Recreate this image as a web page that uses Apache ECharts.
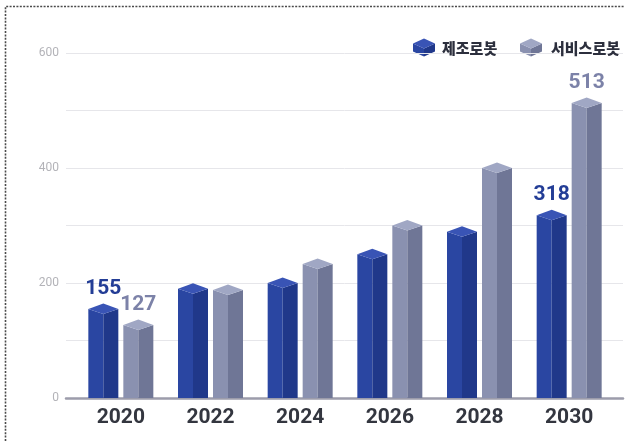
<!DOCTYPE html>
<html>
<head>
<meta charset="utf-8">
<title>로봇 시장 전망</title>
<script src="https://cdn.jsdelivr.net/npm/echarts@6/dist/echarts.min.js"></script>
<style>
  html, body { margin: 0; padding: 0; background: #ffffff; }
  #chart { width: 628px; height: 441px; }
</style>
</head>
<body>
<div id="chart"></div>
<script>
// Years on the category axis
const years = ['2020', '2022', '2024', '2026', '2028', '2030'];
// 제조로봇 (manufacturing robots)
const manufacturing = [155, 190, 200, 250, 289, 318];
// 서비스로봇 (service robots)
const service = [127, 188, 233, 300, 400, 513];
// Value axis range and step
const yMax = 600;
const yStep = 100;
const yLabelStep = 200;
// Years whose bars carry a value label
const labeledYears = ['2020', '2030'];

const seriesNames = ['제조로봇', '서비스로봇'];
const palette = [
  { left: '#2a46a2', right: '#20388a', top: '#3954b5', label: '#233d96' },
  { left: '#8a91b0', right: '#6f7696', top: '#a0a7c4', label: '#7c82a8' }
];
const BAR_HALF = 15;
const PAIR_OFFSET = 17.5;

function prismRenderer(seriesIdx) {
  return function (params, api) {
    const idx = api.value(0);
    const val = api.value(1);
    const top = api.coord([idx, val]);
    const base = api.coord([idx, 0]);
    const xc = top[0] + (seriesIdx === 0 ? -PAIR_OFFSET : PAIR_OFFSET);
    const x0 = xc - BAR_HALF, x1 = xc + BAR_HALF;
    const yT = top[1], yB = base[1];
    const c = palette[seriesIdx];
    const children = [
      { type: 'polygon', shape: { points: [[x0, yT], [xc, yT + 5], [xc, yB], [x0, yB]] },
        style: { fill: c.left } },
      { type: 'polygon', shape: { points: [[xc, yT + 5], [x1, yT], [x1, yB], [xc, yB]] },
        style: { fill: c.right } },
      { type: 'polygon', shape: { points: [[x0, yT], [xc, yT - 5.5], [x1, yT], [xc, yT + 5]] },
        style: { fill: c.top } }
    ];
    if (labeledYears.indexOf(years[idx]) >= 0) {
      children.push({
        type: 'text',
        style: {
          x: xc, y: yT - 20, text: String(val),
          align: 'center', verticalAlign: 'middle',
          font: 'bold 21px Roboto, "Noto Sans", sans-serif',
          fill: c.label
        }
      });
    }
    return { type: 'group', children: children };
  };
}

// small isometric cube used as a legend marker
function cube(cx, cy, c) {
  const w = 11, h = 9, s = 4;
  return {
    type: 'group',
    children: [
      { type: 'polygon', shape: { points: [[cx - w, cy - s], [cx, cy + 1], [cx, cy + h], [cx - w, cy + s]] }, style: { fill: c.left } },
      { type: 'polygon', shape: { points: [[cx, cy + 1], [cx + w, cy - s], [cx + w, cy + s], [cx, cy + h]] }, style: { fill: c.right } },
      { type: 'polygon', shape: { points: [[cx - w, cy - s], [cx, cy - h], [cx + w, cy - s], [cx, cy + 1]] }, style: { fill: c.top } }
    ]
  };
}

const chart = echarts.init(document.getElementById('chart'), null, { renderer: 'canvas' });

const option = {
  backgroundColor: '#ffffff',
  animation: false,
  grid: [
    { left: 66, right: 5, top: 53, bottom: 43 },
    { left: 76, right: 14, top: 53, bottom: 43 }
  ],
  xAxis: [
    {
      gridIndex: 0, type: 'category', data: [''],
      axisLine: { show: true, lineStyle: { color: '#9c9cab', width: 2.5 } },
      axisTick: { show: false }, axisLabel: { show: false }, splitLine: { show: false }
    },
    {
      gridIndex: 1, type: 'category', data: years,
      axisLine: { show: false }, axisTick: { show: false },
      axisLabel: {
        margin: 9, color: '#33363f', fontSize: 21, fontWeight: 'bold',
        fontFamily: 'Roboto, "Noto Sans", sans-serif'
      }
    }
  ],
  yAxis: [
    {
      gridIndex: 0, type: 'value', min: 0, max: yMax, interval: yStep,
      axisLine: { show: false }, axisTick: { show: false },
      axisLabel: {
        margin: 7, color: '#b3b3b8', fontSize: 12,
        fontFamily: 'Roboto, "Noto Sans", sans-serif',
        formatter: function (v) { return v % yLabelStep === 0 ? String(v) : ''; }
      },
      splitLine: { show: true, lineStyle: { color: '#e6e6ea', width: 1 } }
    },
    {
      gridIndex: 1, type: 'value', min: 0, max: yMax, interval: yStep,
      show: false, splitLine: { show: false }
    }
  ],
  series: [
    {
      name: seriesNames[0], type: 'custom', xAxisIndex: 1, yAxisIndex: 1, z: 5,
      renderItem: prismRenderer(0),
      data: manufacturing.map(function (v, i) { return [i, v]; })
    },
    {
      name: seriesNames[1], type: 'custom', xAxisIndex: 1, yAxisIndex: 1, z: 5,
      renderItem: prismRenderer(1),
      data: service.map(function (v, i) { return [i, v]; })
    }
  ],
  graphic: [
    // dotted frame on the top and left edges
    {
      type: 'polyline', silent: true, z: 10,
      shape: { points: [[5.5, 441], [5.5, 6.5], [624, 6.5]] },
      style: { stroke: '#4a4a4a', lineWidth: 1.6, lineDash: [2, 1.4], fill: null }
    },
    // legend
    cube(424, 47.5, palette[0]),
    {
      type: 'text', z: 10,
      style: { x: 442, y: 48, text: seriesNames[0], verticalAlign: 'middle',
        font: '900 15px "Noto Sans CJK KR", sans-serif', fill: '#2c2f3d' }
    },
    cube(531, 47.5, palette[1]),
    {
      type: 'text', z: 10,
      style: { x: 551, y: 48, text: seriesNames[1], verticalAlign: 'middle',
        font: '900 15px "Noto Sans CJK KR", sans-serif', fill: '#2c2f3d' }
    }
  ]
};

chart.setOption(option);
</script>
</body>
</html>
